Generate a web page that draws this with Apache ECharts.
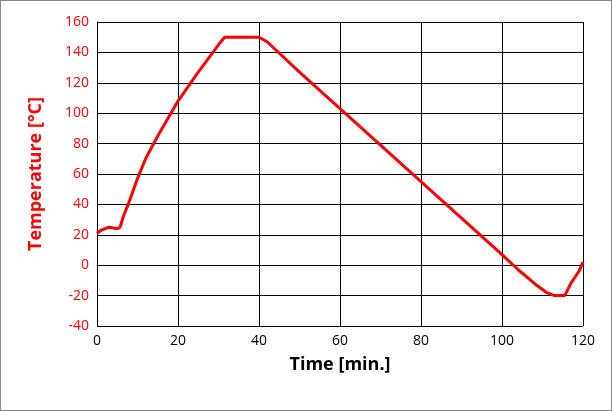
<!DOCTYPE html>
<html><head><meta charset="utf-8">
<script src="https://cdn.jsdelivr.net/npm/echarts@6/dist/echarts.min.js"></script>
<style>html,body{margin:0;padding:0;background:#fff}#root{width:610px;height:409px;border:1px solid #888;}</style>
</head><body><div id="root"></div>
<script>
// time (min) and temperature (°C)
var times = [0, 1, 2, 3, 4, 5, 5.7, 6.5, 7.7, 10, 12, 15, 20, 25, 30, 31.5, 35, 40, 42, 50, 60, 70, 80, 90, 100, 104, 108, 111, 113, 115.5, 117, 119, 120];
var temps = [21, 23, 24, 25, 24.5, 24, 25, 32, 40, 57, 70, 85, 108, 127, 145, 150, 150, 150, 147, 127, 103, 79, 55, 31, 7, -3, -12, -18, -20, -20, -12, -4, 2];

var chart = echarts.init(document.getElementById('root'));
chart.setOption({
  animation: false,
  grid: { left: 96, right: 28, top: 21, bottom: 84 },
  xAxis: {
    type: 'value', min: 0, max: 120, interval: 20,
    name: 'Time [min.]', nameLocation: 'middle', nameGap: 30,
    nameTextStyle: { fontFamily: 'Open Sans', fontSize: 18, fontWeight: 'bold', color: '#000' },
    axisLine: { lineStyle: { color: '#000' } },
    axisTick: { show: false },
    axisLabel: { fontFamily: 'Open Sans', fontSize: 14, color: '#000' },
    splitLine: { lineStyle: { color: '#000' } }
  },
  yAxis: {
    type: 'value', min: -40, max: 160, interval: 20,
    name: 'Temperature [°C]', nameLocation: 'middle', nameGap: 52,
    nameTextStyle: { fontFamily: 'Open Sans', fontSize: 18, fontWeight: 'bold', color: '#ff0000' },
    axisLine: { show: true, lineStyle: { color: '#000' } },
    axisTick: { show: false },
    axisLabel: { fontFamily: 'Open Sans', fontSize: 14, color: '#ff0000' },
    splitLine: { lineStyle: { color: '#000' } }
  },
  series: [{
    type: 'line', showSymbol: false,
    data: times.map(function (t, i) { return [t, temps[i]]; }),
    lineStyle: { color: '#ff0000', width: 3 }
  }]
});
</script></body></html>
